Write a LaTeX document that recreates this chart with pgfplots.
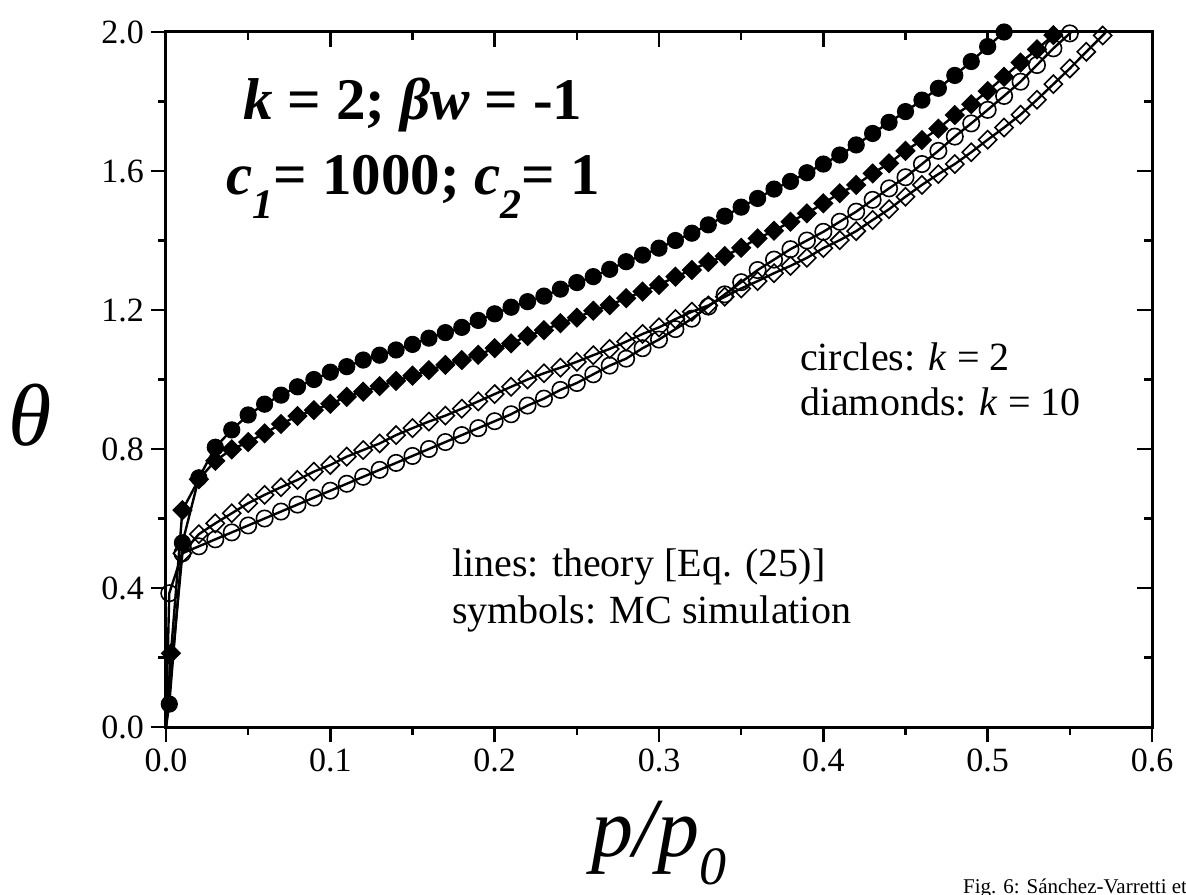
\documentclass[border=0pt]{standalone}
\usepackage{pgfplots}
\usepackage{pgfplotstable}
\pgfplotsset{compat=1.18}
\usepackage{fontspec}
\setmainfont{Liberation Serif}

% MC data (first row (0,0) only feeds the theory line)
\pgfplotstableread{
x y
0 0
0.002 0.066
0.01 0.530
0.02 0.717
0.03 0.805
0.04 0.855
0.05 0.898
0.06 0.929
0.07 0.955
0.08 0.979
0.09 1.000
0.10 1.021
0.11 1.037
0.12 1.056
0.13 1.070
0.14 1.085
0.15 1.101
0.16 1.119
0.17 1.135
0.18 1.150
0.19 1.170
0.20 1.189
0.21 1.208
0.22 1.224
0.23 1.240
0.24 1.260
0.25 1.279
0.26 1.296
0.27 1.317
0.28 1.339
0.29 1.358
0.30 1.378
0.31 1.400
0.32 1.421
0.33 1.445
0.34 1.470
0.35 1.496
0.36 1.521
0.37 1.548
0.38 1.570
0.39 1.595
0.40 1.620
0.41 1.646
0.42 1.675
0.43 1.708
0.44 1.740
0.45 1.771
0.46 1.804
0.47 1.838
0.48 1.875
0.49 1.915
0.50 1.958
0.51 2.000
0.52 2.045
}\circfull

\pgfplotstableread{
x y
0 0
0.003 0.212
0.01 0.624
0.02 0.713
0.03 0.766
0.04 0.799
0.05 0.820
0.06 0.845
0.07 0.872
0.08 0.895
0.09 0.912
0.10 0.930
0.11 0.950
0.12 0.965
0.13 0.981
0.14 0.996
0.15 1.011
0.16 1.027
0.17 1.042
0.18 1.056
0.19 1.071
0.20 1.090
0.21 1.104
0.22 1.125
0.23 1.142
0.24 1.162
0.25 1.178
0.26 1.198
0.27 1.214
0.28 1.234
0.29 1.253
0.30 1.272
0.31 1.296
0.32 1.315
0.33 1.338
0.34 1.355
0.35 1.379
0.36 1.406
0.37 1.428
0.38 1.454
0.39 1.478
0.40 1.507
0.41 1.536
0.42 1.560
0.43 1.593
0.44 1.622
0.45 1.658
0.46 1.689
0.47 1.722
0.48 1.761
0.49 1.792
0.50 1.830
0.51 1.871
0.52 1.912
0.53 1.950
0.54 1.991
0.55 2.035
}\diamfull

\pgfplotstableread{
x y
0 0
0.002 0.385
0.01 0.500
0.02 0.520
0.03 0.540
0.04 0.560
0.05 0.580
0.06 0.600
0.07 0.620
0.08 0.640
0.09 0.660
0.10 0.680
0.11 0.700
0.12 0.720
0.13 0.740
0.14 0.760
0.15 0.780
0.16 0.800
0.17 0.820
0.18 0.840
0.19 0.860
0.20 0.880
0.21 0.900
0.22 0.925
0.23 0.945
0.24 0.970
0.25 0.990
0.26 1.015
0.27 1.040
0.28 1.060
0.29 1.090
0.30 1.115
0.31 1.145
0.32 1.175
0.33 1.210
0.34 1.245
0.35 1.280
0.36 1.315
0.37 1.345
0.38 1.375
0.39 1.400
0.40 1.425
0.41 1.454
0.42 1.483
0.43 1.517
0.44 1.550
0.45 1.582
0.46 1.620
0.47 1.658
0.48 1.699
0.49 1.737
0.50 1.776
0.51 1.816
0.52 1.857
0.53 1.905
0.54 1.953
0.55 1.996
0.56 2.040
}\circopen

\pgfplotstableread{
x y
0 0
0.01 0.500
0.02 0.555
0.03 0.586
0.04 0.615
0.05 0.644
0.06 0.668
0.07 0.690
0.08 0.711
0.09 0.735
0.10 0.754
0.11 0.778
0.12 0.797
0.13 0.816
0.14 0.840
0.15 0.860
0.16 0.879
0.17 0.896
0.18 0.916
0.19 0.937
0.20 0.958
0.21 0.979
0.22 1.000
0.23 1.018
0.24 1.034
0.25 1.051
0.26 1.070
0.27 1.088
0.28 1.109
0.29 1.131
0.30 1.150
0.31 1.174
0.32 1.195
0.33 1.213
0.34 1.238
0.35 1.262
0.36 1.283
0.37 1.306
0.38 1.327
0.39 1.350
0.40 1.378
0.41 1.401
0.42 1.427
0.43 1.459
0.44 1.490
0.45 1.526
0.46 1.560
0.47 1.591
0.48 1.620
0.49 1.654
0.50 1.690
0.51 1.725
0.52 1.762
0.53 1.805
0.54 1.850
0.55 1.895
0.56 1.943
0.57 1.990
0.58 2.040
}\diamopen

\pgfplotsset{
  commonax/.style={
    width=493pt, height=347.5pt, scale only axis,
    xmin=0, xmax=0.6, ymin=0, ymax=2.0,
    xtick={0,0.1,...,0.6}, ytick={0,0.4,...,2.0},
    minor x tick num=1, minor y tick num=1,
    axis line style={line width=1.5pt},
    major tick length=7.5pt, minor tick length=3.8pt,
    every tick/.style={line width=1.3pt, black},
  },
}

\begin{document}
\begin{tikzpicture}
\begin{axis}[
  commonax,
  tick pos=left, tick align=outside,
  tick label style={font=\fontsize{17}{17}\selectfont,
    /pgf/number format/assume math mode=true,
    /pgf/number format/fixed, /pgf/number format/fixed zerofill,
    /pgf/number format/precision=1},
  xlabel={\textit{p/p}\raisebox{-14pt}{\fontsize{27}{27}\selectfont\textit{0}}},
  xlabel style={font=\fontsize{42}{42}\selectfont, at={(axis description cs:0.5,-0.187)}, anchor=base},
  ylabel={\textit{θ}},
  ylabel style={font=\fontsize{44}{44}\selectfont, rotate=-90, at={(axis description cs:-0.138,0.449)}, anchor=center},
]
% theory lines
\addplot[line width=1.2pt, no marks] table {\circfull};
\addplot[line width=1.2pt, no marks] table {\diamfull};
\addplot[line width=1.2pt, no marks] table {\circopen};
\addplot[line width=1.2pt, no marks] table {\diamopen};
% MC symbols
\addplot[only marks, mark=*, mark size=4pt, mark options={fill=black, line width=0.6pt}, skip coords between index={0}{1}] table {\circfull};
\addplot[only marks, mark=square*, mark size=3.3pt, mark options={rotate=45, fill=black, line width=0.6pt}, skip coords between index={0}{1}] table {\diamfull};
\addplot[only marks, mark=o, mark size=4.1pt, mark options={line width=0.8pt}, skip coords between index={0}{1}] table {\circopen};
\addplot[only marks, mark=square, mark size=3.2pt, mark options={rotate=45, line width=0.8pt}, skip coords between index={0}{1}] table {\diamopen};

\node[anchor=base, font=\fontsize{29.5}{29.5}\selectfont\bfseries] at (axis cs:0.1503,1.747)
  {\textit{k} = 2; \textit{βw} = -1};
\node[anchor=base, font=\fontsize{29.5}{29.5}\selectfont\bfseries] at (axis cs:0.1503,1.531)
  {\textit{c}\raisebox{-0.4em}{\fontsize{21}{21}\selectfont\textit{1}}= 1000; \textit{c}\raisebox{-0.4em}{\fontsize{21}{21}\selectfont\textit{2}}= 1};
\node[anchor=base west, font=\fontsize{20}{20}\selectfont] at (axis cs:0.3815,1.027)
  {circles: \textit{k} = 2};
\node[anchor=base west, font=\fontsize{20}{20}\selectfont] at (axis cs:0.3815,0.895)
  {diamonds: \textit{k} = 10};
\node[anchor=base west, font=\fontsize{20}{20}\selectfont] at (axis cs:0.1698,0.4345)
  {lines: theory [Eq. (25)]};
\node[anchor=base west, font=\fontsize{20}{20}\selectfont] at (axis cs:0.1698,0.297)
  {symbols: MC simulation};
\end{axis}
\begin{axis}[
  commonax,
  tick pos=right, tick align=inside,
  xticklabels={}, yticklabels={},
]
\end{axis}
\node[anchor=base west, font=\fontsize{10.5}{10.5}\selectfont] at ([shift={(395pt,-83pt)}]current axis.south west)
  {Fig. 6: Sánchez-Varretti et al.};
\pgfresetboundingbox
\path ([shift={(-83pt,-83.5pt)}]current axis.south west) rectangle ([shift={(17pt,16pt)}]current axis.north east);
\end{tikzpicture}
\end{document}
